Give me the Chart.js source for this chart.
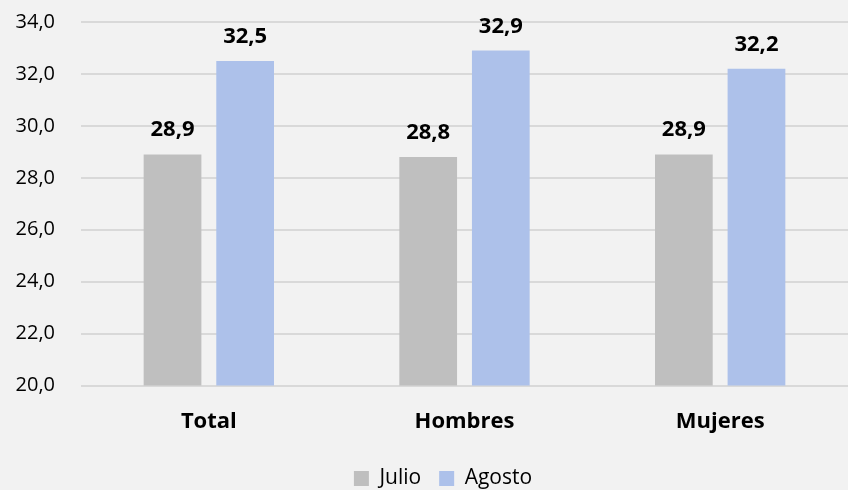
<!DOCTYPE html>
<html lang="es">
<head>
    <meta charset="UTF-8">
    <title>Julio vs Agosto</title>
    <style>
        html, body {
            margin: 0;
            padding: 0;
            background: #f2f2f2;
            overflow: hidden;
        }
        #wrap {
            width: 848px;
            height: 490px;
            overflow: hidden;
        }
        #barChart {
            display: block;
            margin-top: -16px;
        }
    </style>
    <script src="https://cdn.jsdelivr.net/npm/chart.js"></script>
</head>
<body>
    <div id="wrap"><canvas id="barChart" width="848" height="515"></canvas></div>

    <script>
        const categories = ['Total', 'Hombres', 'Mujeres'];
        const julio = [28.9, 28.8, 28.9];
        const agosto = [32.5, 32.9, 32.2];
        const yTicks = [20, 22, 24, 26, 28, 30, 32, 34];

        const fontFamily = '"Open Sans", "Noto Sans", sans-serif';

        function comma(v) {
            return Number(v).toFixed(1).replace('.', ',');
        }

        // draws the value above every bar
        const valueLabels = {
            id: 'valueLabels',
            afterLayout(chart) {
                // legend sits a bit right of centre in the original
                if (chart.legend) {
                    chart.legend.left += 13;
                    chart.legend.right += 13;
                }
            },
            afterDatasetsDraw(chart) {
                const ctx = chart.ctx;
                ctx.save();
                ctx.font = 'bold 22px ' + fontFamily;
                ctx.fillStyle = '#000000';
                ctx.textAlign = 'center';
                ctx.textBaseline = 'alphabetic';
                chart.data.datasets.forEach((ds, i) => {
                    chart.getDatasetMeta(i).data.forEach((bar, j) => {
                        ctx.fillText(comma(ds.data[j]), bar.x, bar.y - 18);
                    });
                });
                ctx.restore();
            }
        };

        new Chart(document.getElementById('barChart'), {
            type: 'bar',
            data: {
                labels: categories,
                datasets: [
                    {
                        label: 'Julio',
                        data: julio,
                        backgroundColor: '#bfbfbf',
                        categoryPercentage: 0.568,
                        barPercentage: 0.795
                    },
                    {
                        label: 'Agosto',
                        data: agosto,
                        backgroundColor: '#adc1ea',
                        categoryPercentage: 0.568,
                        barPercentage: 0.795
                    }
                ]
            },
            options: {
                responsive: false,
                animation: false,
                layout: {
                    padding: { top: -3, left: 12, right: 0, bottom: 0 }
                },
                plugins: {
                    tooltip: { enabled: false },
                    legend: {
                        position: 'bottom',
                        labels: {
                            boxWidth: 15,
                            boxHeight: 15,
                            padding: 18,
                            color: '#000000',
                            font: { family: fontFamily, size: 21 }
                        }
                    }
                },
                scales: {
                    x: {
                        grid: { display: false },
                        border: { display: false },
                        ticks: {
                            color: '#000000',
                            padding: 15,
                            font: { family: fontFamily, size: 22, weight: 'bold' }
                        }
                    },
                    y: {
                        min: yTicks[0],
                        max: yTicks[yTicks.length - 1],
                        afterBuildTicks(axis) {
                            axis.ticks = yTicks.map(v => ({ value: v }));
                        },
                        afterFit(axis) {
                            axis.width = 69;
                        },
                        grid: { color: '#d9d9d9', lineWidth: 2, drawTicks: false },
                        border: { display: false },
                        ticks: {
                            color: '#000000',
                            padding: 26,
                            font: { family: fontFamily, size: 20 },
                            callback: v => comma(v)
                        }
                    }
                }
            },
            plugins: [valueLabels]
        });
    </script>
</body>
</html>
